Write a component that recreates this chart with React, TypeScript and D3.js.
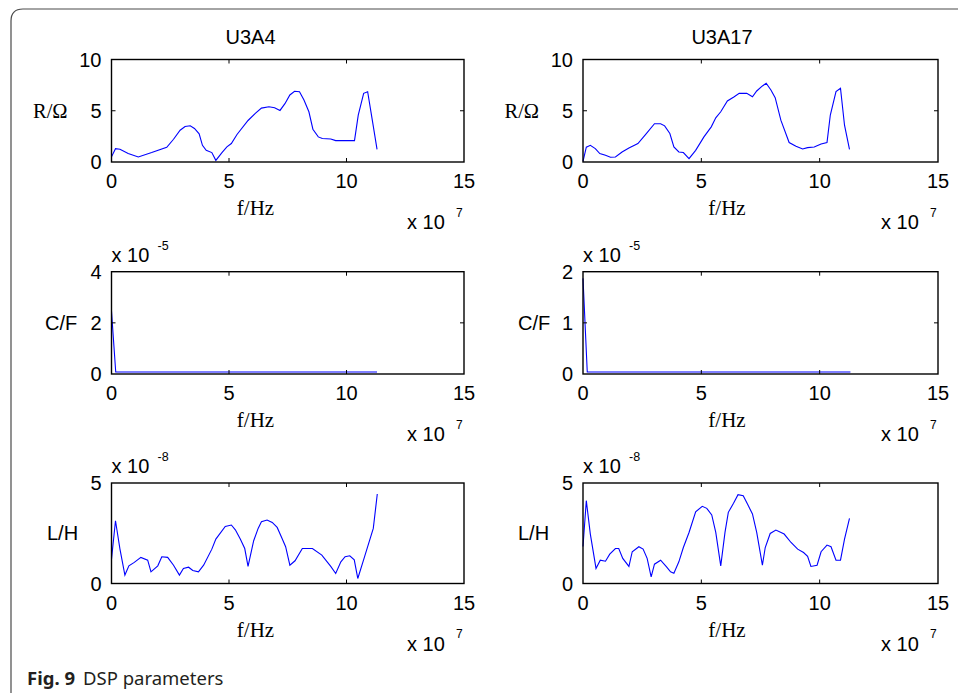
import React from "react";
import * as d3 from "d3";

// frequency in units of 1e7 Hz
const xTicks = [0, 5, 10, 15];

const fR4 = [0, 0.17, 0.36, 0.71, 1.14, 1.71, 2.35, 2.64, 2.92, 3.13, 3.35, 3.53, 3.73, 3.87, 4.03, 4.27, 4.44, 4.7, 4.91, 5.1, 5.34, 5.81, 6.12, 6.38, 6.7, 6.94, 7.17, 7.38, 7.59, 7.79, 8.0, 8.19, 8.4, 8.57, 8.8, 8.97, 9.33, 9.54, 10.34, 10.5, 10.73, 10.9, 11.11, 11.3];
const rU3A4 = [0.5, 1.3, 1.24, 0.82, 0.49, 0.92, 1.44, 2.22, 3.1, 3.46, 3.53, 3.27, 2.75, 1.63, 1.14, 0.92, 0.16, 0.92, 1.47, 1.8, 2.68, 4.05, 4.74, 5.26, 5.39, 5.29, 5.03, 5.69, 6.54, 6.9, 6.86, 6.05, 4.9, 3.2, 2.45, 2.29, 2.25, 2.09, 2.09, 4.58, 6.7, 6.86, 3.92, 1.24];

const fR17 = [0, 0.14, 0.31, 0.52, 0.71, 0.95, 1.16, 1.37, 1.65, 1.94, 2.32, 2.64, 3.02, 3.28, 3.45, 3.67, 3.84, 4.05, 4.24, 4.48, 4.76, 5.11, 5.42, 5.61, 5.82, 6.1, 6.39, 6.6, 6.92, 7.16, 7.34, 7.58, 7.74, 7.94, 8.12, 8.36, 8.71, 9.0, 9.28, 9.49, 9.77, 10.06, 10.31, 10.45, 10.69, 10.88, 11.05, 11.26];
const rU3A17 = [0.07, 1.44, 1.63, 1.31, 0.82, 0.65, 0.46, 0.49, 0.98, 1.37, 1.8, 2.68, 3.73, 3.73, 3.53, 2.78, 1.47, 0.98, 0.92, 0.33, 1.14, 2.45, 3.43, 4.31, 4.9, 5.95, 6.37, 6.7, 6.7, 6.37, 6.93, 7.42, 7.68, 7.03, 6.27, 4.08, 1.9, 1.54, 1.27, 1.4, 1.47, 1.76, 1.9, 4.58, 6.86, 7.19, 3.59, 1.24];

// capacitance, units of 1e-5 F
const fC = [0, 0.18, 11.3];
const cU3A4 = [2.45, 0.08, 0.08];
const cU3A17 = [1.87, 0.04, 0.04];

// inductance, units of 1e-8 H
const fL4 = [0, 0.17, 0.36, 0.57, 0.74, 0.97, 1.25, 1.54, 1.68, 1.97, 2.14, 2.39, 2.64, 2.89, 3.06, 3.28, 3.46, 3.7, 3.92, 4.27, 4.44, 4.84, 5.1, 5.27, 5.48, 5.67, 5.81, 6.05, 6.24, 6.38, 6.62, 6.84, 7.05, 7.24, 7.41, 7.59, 7.81, 8.12, 8.55, 8.95, 9.33, 9.54, 9.76, 9.94, 10.14, 10.33, 10.48, 10.76, 11.14, 11.31];
const lU3A4 = [1.21, 3.12, 1.71, 0.42, 0.88, 1.05, 1.3, 1.16, 0.58, 0.88, 1.33, 1.3, 0.91, 0.42, 0.75, 0.81, 0.65, 0.58, 0.91, 1.71, 2.21, 2.84, 2.91, 2.67, 2.21, 1.74, 0.85, 2.13, 2.74, 3.07, 3.16, 3.04, 2.79, 2.29, 1.83, 0.91, 1.13, 1.74, 1.74, 1.41, 0.85, 0.5, 1.08, 1.33, 1.38, 1.18, 0.25, 1.3, 2.74, 4.45];

const fL17 = [0, 0.14, 0.31, 0.55, 0.73, 0.95, 1.13, 1.37, 1.51, 1.68, 1.94, 2.08, 2.36, 2.54, 2.71, 2.88, 3.02, 3.28, 3.53, 3.7, 3.84, 4.05, 4.24, 4.48, 4.76, 5.04, 5.23, 5.44, 5.61, 5.82, 6.0, 6.14, 6.36, 6.55, 6.77, 6.95, 7.16, 7.34, 7.58, 7.7, 7.91, 8.15, 8.5, 8.79, 9.07, 9.32, 9.49, 9.63, 9.89, 10.06, 10.31, 10.48, 10.69, 10.88, 11.05, 11.26];
const lU3A17 = [1.84, 4.12, 2.46, 0.75, 1.16, 1.11, 1.46, 1.74, 1.74, 1.25, 0.85, 1.58, 1.83, 1.71, 1.25, 0.33, 0.96, 1.16, 0.83, 0.58, 0.51, 1.08, 1.79, 2.54, 3.57, 3.84, 3.74, 3.41, 2.54, 0.88, 2.54, 3.54, 3.99, 4.42, 4.37, 3.95, 3.46, 2.54, 0.91, 1.79, 2.49, 2.66, 2.46, 2.04, 1.71, 1.54, 1.35, 0.85, 0.91, 1.58, 1.91, 1.83, 1.16, 1.16, 2.21, 3.24];

const sans = "'Liberation Sans', Arial, sans-serif";
const serif = "'Liberation Serif', 'Times New Roman', serif";
const fs = 20;

type PanelProps = {
  left: number; top: number; width: number; height: number;
  freq: number[]; vals: number[]; yMax: number; yTicks: number[];
  title?: string; ylabel: string; ylabelSerif?: boolean; ylabelDx: number;
  yExp?: string;
};

function Panel(p: PanelProps) {
  const x = d3.scaleLinear().domain([0, 15]).range([p.left, p.left + p.width]);
  const y = d3.scaleLinear().domain([0, p.yMax]).range([p.top + p.height, p.top]);
  const line = d3.line<number>().x((d, i) => x(p.freq[i])).y((d) => y(d));
  const bottom = p.top + p.height;
  const right = p.left + p.width;
  const tk = 4;
  return (
    <g>
      {p.title && (
        <text x={p.left + 139} y={p.top - 16} fontFamily={sans} fontSize={fs} textAnchor="middle">{p.title}</text>
      )}
      <path d={line(p.vals) || ""} fill="none" stroke="#0000ff" strokeWidth={1.1} />
      <rect x={p.left} y={p.top} width={p.width} height={p.height} fill="none" stroke="#000" strokeWidth={1.4} />
      {xTicks.slice(1, -1).map((t) => (
        <g key={"xt" + t}>
          <line x1={x(t)} x2={x(t)} y1={bottom} y2={bottom - tk} stroke="#000" />
          <line x1={x(t)} x2={x(t)} y1={p.top} y2={p.top + tk} stroke="#000" />
        </g>
      ))}
      {p.yTicks.slice(1, -1).map((t) => (
        <g key={"yt" + t}>
          <line x1={p.left} x2={p.left + tk} y1={y(t)} y2={y(t)} stroke="#000" />
          <line x1={right} x2={right - tk} y1={y(t)} y2={y(t)} stroke="#000" />
        </g>
      ))}
      {xTicks.map((t) => (
        <text key={"xl" + t} x={x(t)} y={bottom + 26} fontFamily={sans} fontSize={fs} textAnchor="middle">{t}</text>
      ))}
      {p.yTicks.map((t) => (
        <text key={"yl" + t} x={p.left - 10} y={y(t) + 7} fontFamily={sans} fontSize={fs} textAnchor="end">{t}</text>
      ))}
      <text x={p.left - p.ylabelDx} y={p.top + p.height / 2 + 7} fontFamily={p.ylabelSerif ? serif : sans} fontSize={p.ylabelSerif ? 20.5 : fs}>{p.ylabel}</text>
      <text x={p.left + 144} y={bottom + 53} fontFamily={serif} fontSize={21} textAnchor="middle">f/Hz</text>
      <text x={right - 57} y={bottom + 67} fontFamily={sans} fontSize={fs}>x 10</text>
      <text x={right - 8} y={bottom + 54.5} fontFamily={sans} fontSize={12}>7</text>
      {p.yExp && (
        <g>
          <text x={p.left} y={p.top - 10} fontFamily={sans} fontSize={fs}>x 10</text>
          <text x={p.left + 46} y={p.top - 22} fontFamily={sans} fontSize={12.5}>{p.yExp}</text>
        </g>
      )}
    </g>
  );
}

export default function App() {
  const W = 958, H = 693;
  const cols = [{ left: 111.5, width: 352.5 }, { left: 583, width: 355 }];
  const rows = [{ top: 59.5, height: 102.5 }, { top: 271.7, height: 102.3 }, { top: 483, height: 100.5 }];
  return (
    <svg width={W} height={H} style={{ position: "absolute", left: 0, top: 0, background: "#fff" }}>
      <rect x={0} y={0} width={W} height={H} fill="#fff" />
      <path d={`M11,${H + 5} V21 Q11,9 23,9 H${W + 5}`} fill="none" stroke="#4a4a4a" strokeWidth={1.2} />
      <Panel {...cols[0]} {...rows[0]} freq={fR4} vals={rU3A4} yMax={10} yTicks={[0, 5, 10]} title="U3A4" ylabel="R/Ω" ylabelSerif ylabelDx={78.5} />
      <Panel {...cols[1]} {...rows[0]} freq={fR17} vals={rU3A17} yMax={10} yTicks={[0, 5, 10]} title="U3A17" ylabel="R/Ω" ylabelSerif ylabelDx={78.5} />
      <Panel {...cols[0]} {...rows[1]} freq={fC} vals={cU3A4} yMax={4} yTicks={[0, 2, 4]} ylabel="C/F" ylabelDx={66.5} yExp="-5" />
      <Panel {...cols[1]} {...rows[1]} freq={fC} vals={cU3A17} yMax={2} yTicks={[0, 1, 2]} ylabel="C/F" ylabelDx={65} yExp="-5" />
      <Panel {...cols[0]} {...rows[2]} freq={fL4} vals={lU3A4} yMax={5} yTicks={[0, 5]} ylabel="L/H" ylabelDx={64.5} yExp="-8" />
      <Panel {...cols[1]} {...rows[2]} freq={fL17} vals={lU3A17} yMax={5} yTicks={[0, 5]} ylabel="L/H" ylabelDx={65} yExp="-8" />
      <text x={27} y={685} fontFamily="'Noto Sans', 'Open Sans', sans-serif" fontSize={18.5} fill="#231f20">
        <tspan fontWeight="bold">Fig. 9</tspan>
        <tspan dx={8}>DSP parameters</tspan>
      </text>
    </svg>
  );
}
